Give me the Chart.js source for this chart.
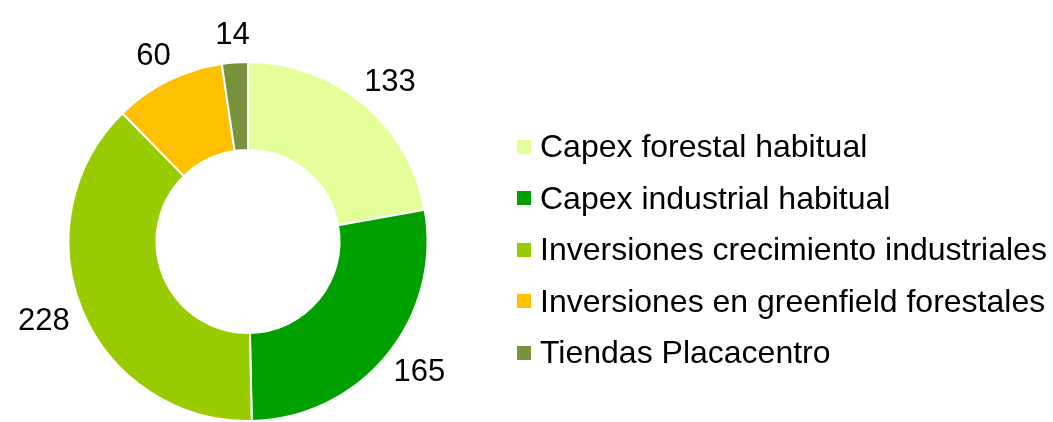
<!DOCTYPE html>
<html>
<head>
<meta charset="utf-8">
<script src="https://cdn.jsdelivr.net/npm/chart.js@4/dist/chart.umd.min.js"></script>
<style>
  html, body { margin: 0; padding: 0; background: #fff; }
  #wrap { position: relative; width: 1053px; height: 422px; }
  #legend { position: absolute; left: 517px; top: 121px; font-family: "Liberation Sans", Arial, sans-serif; font-size: 32px; color: #000; }
  #legend .row { height: 51.5px; line-height: 51.5px; white-space: nowrap; }
  #legend .box { display: inline-block; width: 14px; height: 14px; margin-right: 9px; vertical-align: middle; position: relative; top: -2px; }
</style>
</head>
<body>
<div id="wrap">
  <canvas id="capexChart" width="1053" height="422"></canvas>
  <div id="legend"></div>
</div>
<script>
// chart data
var categories = ["Capex forestal habitual", "Capex industrial habitual", "Inversiones crecimiento industriales", "Inversiones en greenfield forestales", "Tiendas Placacentro"];
var amounts = [133, 165, 228, 60, 14];
var sliceColors = ["#E4FF99", "#00A000", "#99CC00", "#FFC000", "#77933C"];

// Draw the value labels just outside each slice
var outsideLabels = {
  id: "outsideLabels",
  afterDatasetsDraw: function(chart) {
    var ctx = chart.ctx;
    var meta = chart.getDatasetMeta(0);
    ctx.save();
    ctx.font = "31px 'Liberation Sans', Arial, sans-serif";
    ctx.fillStyle = "#000";
    ctx.textAlign = "center";
    ctx.textBaseline = "middle";
    meta.data.forEach(function(arc, i) {
      var p = arc.getProps(["x", "y", "startAngle", "endAngle", "outerRadius"], true);
      var mid = (p.startAngle + p.endAngle) / 2;
      var cos = Math.cos(mid), sin = Math.sin(mid);
      var text = String(amounts[i]);
      var w = ctx.measureText(text).width + 8;
      var h = 31;
      var r = p.outerRadius + 12;
      var x = p.x + cos * r + cos * w / 2;
      var y = p.y + sin * r + sin * h / 2;
      ctx.fillText(text, x, y);
    });
    ctx.restore();
  }
};

var ctx = document.getElementById("capexChart").getContext("2d");
window.capexChart = new Chart(ctx, {
  type: "doughnut",
  data: {
    labels: categories,
    datasets: [{
      data: amounts,
      backgroundColor: sliceColors,
      borderColor: "#fff",
      borderWidth: 2
    }]
  },
  options: {
    responsive: false,
    animation: false,
    cutout: "51%",
    layout: { padding: { left: 0, right: 557, top: 61, bottom: 0 } },
    plugins: {
      legend: { display: false },
      tooltip: { enabled: false }
    }
  },
  plugins: [outsideLabels]
});

// HTML legend built from the same arrays
var legendDiv = document.getElementById("legend");
categories.forEach(function(name, i) {
  var row = document.createElement("div");
  row.className = "row";
  var box = document.createElement("span");
  box.className = "box";
  box.style.background = sliceColors[i];
  row.appendChild(box);
  row.appendChild(document.createTextNode(name));
  legendDiv.appendChild(row);
});
</script>
</body>
</html>
